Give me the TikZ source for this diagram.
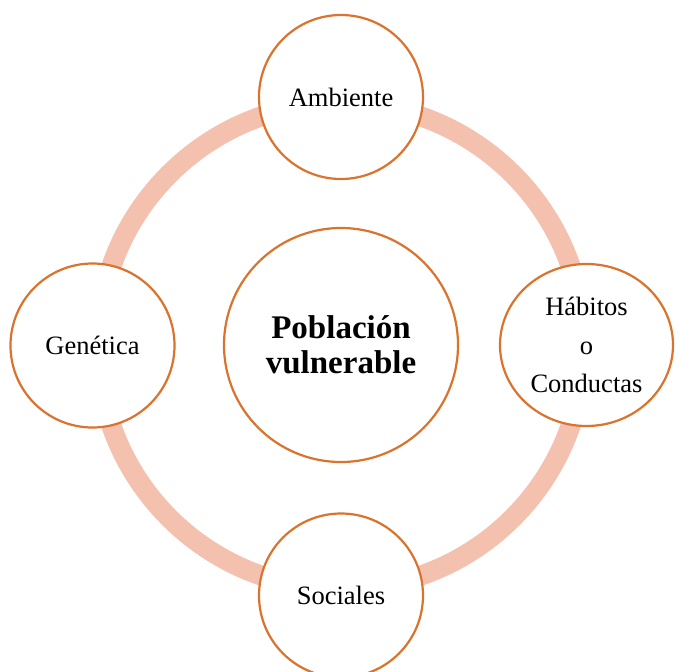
\documentclass[tikz,border=0pt]{standalone}
\usepackage{fontspec}
\setmainfont{Liberation Serif}
\usetikzlibrary{shapes.geometric}
\definecolor{ringpink}{RGB}{244,193,174}
\definecolor{edgeorange}{RGB}{217,115,45}

\begin{document}
\begin{tikzpicture}[x=1pt, y=-1pt,
    every text node part/.style={align=center},
    outer/.style={draw=edgeorange, line width=2.2pt, fill=white, shape=circle,
      minimum size=164pt, inner sep=0pt, font=\fontsize{26.5}{38.5}\selectfont}]
  \useasboundingbox (0,0) rectangle (675,672);
  \coordinate (o) at (341,346);
  \draw[ringpink, line width=20pt] (o) circle (243pt);
  \node (pob) [outer, minimum size=234pt, font=\bfseries\fontsize{33}{35}\selectfont] at (341,345) {Población \\ vulnerable};
  \node (amb) [outer] at (341,97) {Ambiente};
  \node (gen) [outer] at (92.5,345.5) {Genética};
  \node (soc) [outer] at (341,595.5) {Sociales};
  \node (hab) [outer, shape=ellipse, minimum width=173pt, minimum height=162pt] at (586.5,345) {Hábitos \\ o \\ Conductas};
\end{tikzpicture}
\end{document}
